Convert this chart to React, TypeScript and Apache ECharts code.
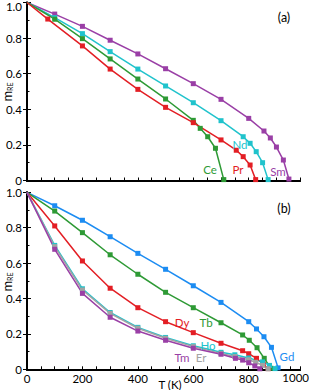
import React, { useEffect, useRef } from "react";
import * as echarts from "echarts";

// ---------- data ----------
const xTickLabels = [0, 200, 400, 600, 800, 1000];
const yTickLabels = ["0", "0.2", "0.4", "0.6", "0.8", "1.0"];

// panel (a)
const ceT = [0, 100, 200, 300, 400, 500, 600, 625, 652, 680, 710];
const ceM = [1, 0.906, 0.797, 0.683, 0.57, 0.458, 0.338, 0.293, 0.246, 0.181, 0.005];
const prT = [0, 75, 200, 300, 400, 500, 600, 700, 755, 780, 805, 825];
const prM = [1, 0.907, 0.756, 0.626, 0.512, 0.411, 0.325, 0.228, 0.17, 0.134, 0.087, 0.005];
const ndT = [0, 100, 200, 300, 400, 500, 600, 700, 780, 805, 827, 850, 870];
const ndM = [1, 0.915, 0.825, 0.724, 0.626, 0.531, 0.437, 0.336, 0.246, 0.209, 0.162, 0.1, 0.005];
const smT = [0, 100, 200, 300, 400, 500, 600, 700, 800, 855, 878, 900, 925, 945];
const smM = [1, 0.935, 0.866, 0.788, 0.711, 0.628, 0.544, 0.456, 0.349, 0.278, 0.239, 0.188, 0.115, 0.008];

// panel (b)
const gdT = [0, 100, 200, 300, 400, 500, 600, 700, 800, 828, 855, 882, 906];
const gdM = [1, 0.924, 0.842, 0.749, 0.655, 0.565, 0.472, 0.378, 0.269, 0.228, 0.184, 0.124, 0.008];
const tbT = [0, 100, 200, 300, 400, 500, 600, 700, 778, 802, 830, 856, 880];
const tbM = [1, 0.894, 0.772, 0.647, 0.537, 0.435, 0.348, 0.263, 0.194, 0.164, 0.122, 0.062, 0.006];
const dyT = [0, 100, 200, 300, 400, 500, 600, 700, 778, 800, 828, 852, 870];
const dyM = [1, 0.81, 0.612, 0.458, 0.348, 0.269, 0.207, 0.147, 0.105, 0.088, 0.062, 0.03, 0.004];
const hoT = [0, 100, 200, 300, 400, 500, 600, 700, 750, 800, 850, 875, 895];
const hoM = [1, 0.7, 0.455, 0.321, 0.237, 0.18, 0.133, 0.096, 0.082, 0.064, 0.042, 0.022, 0.004];
const erT = [0, 100, 200, 300, 400, 500, 600, 700, 750, 800, 825, 850, 870];
const erM = [1, 0.693, 0.448, 0.316, 0.232, 0.175, 0.128, 0.09, 0.072, 0.054, 0.04, 0.022, 0.003];
const tmT = [0, 100, 200, 300, 400, 500, 600, 700, 752, 778, 800, 822, 840];
const tmM = [1, 0.678, 0.429, 0.294, 0.216, 0.164, 0.119, 0.085, 0.062, 0.052, 0.037, 0.019, 0.003];

const C = {
  red: "#e31e24",
  green: "#2e9a35",
  cyan: "#20c3cc",
  purple: "#9a3fa6",
  blue: "#1c8cf2",
  gray: "#a3a3a3",
};

const FONT = "Lato";
const X_MAX = 985;

function pairs(t: number[], m: number[]) {
  return t.map((v, i) =>
    i === 0 ? { value: [v, m[i]], symbol: "none" } : { value: [v, m[i]] }
  );
}

function line(name: string, t: number[], m: number[], color: string, xi: number, yi: number) {
  return {
    name,
    type: "line",
    xAxisIndex: xi,
    yAxisIndex: yi,
    data: pairs(t, m),
    symbol: "rect",
    symbolSize: 5,
    lineStyle: { color, width: 1.5 },
    itemStyle: { color },
    clip: false,
  };
}

const GRIDS = [
  { left: 27, top: 2.5, width: 273, height: 178, outerBoundsMode: "none", containLabel: false },
  { left: 27, top: 192.3, width: 273, height: 177, outerBoundsMode: "none", containLabel: false },
];

export default function App() {
  const ref = useRef<HTMLDivElement>(null);
  useEffect(() => {
    if (!ref.current) return;
    const chart = echarts.init(ref.current, undefined, { renderer: "svg" });

    const axisLine = { show: true, lineStyle: { color: "#000", width: 2 } };
    const xAxes: any[] = [];
    const yAxes: any[] = [];
    const labelValues = xTickLabels.filter((v) => v <= X_MAX);
    [0, 1].forEach((g) => {
      xAxes.push({
        type: "value",
        gridIndex: g,
        position: "bottom",
        min: 0,
        max: X_MAX,
        interval: 50,
        axisLine,
        axisTick: { show: true, inside: true, length: 3, lineStyle: { color: "#000", width: 1 } },
        axisLabel: {
          show: g === 1,
          margin: 3,
          fontFamily: FONT,
          fontSize: 11.5,
          color: "#000",
          customValues: labelValues,
          formatter: (v: number) => String(v),
        },
        splitLine: { show: false },
      });
      xAxes.push({
        type: "value",
        gridIndex: g,
        position: "top",
        min: 0,
        max: X_MAX,
        axisLine,
        axisTick: { show: false },
        axisLabel: { show: false },
        splitLine: { show: false },
      });
      yAxes.push({
        type: "value",
        gridIndex: g,
        position: "left",
        min: 0,
        max: 1,
        interval: 0.2,
        axisLine,
        axisTick: { show: true, inside: true, length: 4, lineStyle: { color: "#000", width: 1 } },
        minorTick: { show: true, splitNumber: 2, length: 2.5, lineStyle: { color: "#000", width: 1 } },
        axisLabel: {
          margin: 5,
          fontFamily: FONT,
          fontSize: 11.5,
          color: "#000",
          formatter: (v: number) => {
            const s = yTickLabels[Math.round(v * 5)];
            return g === 0 && v === 1 ? "{top|" + s + "}" : s;
          },
          rich: {
            top: { fontFamily: FONT, fontSize: 11.5, color: "#000", padding: [8, 0, 0, 0] },
          },
        },
        splitLine: { show: false },
        minorSplitLine: { show: false },
      });
      yAxes.push({
        type: "value",
        gridIndex: g,
        position: "right",
        min: 0,
        max: 1,
        interval: 0.2,
        axisLine,
        axisTick: { show: true, inside: true, length: 4, lineStyle: { color: "#000", width: 1 } },
        axisLabel: { show: false },
        splitLine: { show: false },
      });
    });

    const series = [
      line("Sm", smT, smM, C.purple, 0, 0),
      line("Nd", ndT, ndM, C.cyan, 0, 0),
      line("Ce", ceT, ceM, C.green, 0, 0),
      line("Pr", prT, prM, C.red, 0, 0),
      line("Gd", gdT, gdM, C.blue, 2, 2),
      line("Tb", tbT, tbM, C.green, 2, 2),
      line("Dy", dyT, dyM, C.red, 2, 2),
      line("Ho", hoT, hoM, C.cyan, 2, 2),
      line("Er", erT, erM, C.gray, 2, 2),
      line("Tm", tmT, tmM, C.purple, 2, 2),
    ];

    const txt = (
      text: string,
      x: number,
      y: number,
      color: string,
      size = 11.5,
      align = "center"
    ) => ({
      type: "text",
      x,
      y,
      style: { text, fill: color, fontFamily: FONT, fontSize: size, align, verticalAlign: "middle" },
      z: 100,
    });

    const yName = (y: number) => ({
      type: "text",
      x: 7,
      y,
      rotation: Math.PI / 2,
      style: {
        text: "{m|m}{s|RE}",
        align: "center",
        verticalAlign: "middle",
        fill: "#000",
        rich: {
          m: { fontFamily: FONT, fontSize: 13, fill: "#000", lineHeight: 13, verticalAlign: "middle" },
          s: { fontFamily: FONT, fontSize: 7, fill: "#000", lineHeight: 13, verticalAlign: "bottom", padding: [6, 0, 0, 0] },
        },
      },
      z: 100,
    });

    chart.setOption({
      animation: false,
      grid: GRIDS,
      xAxis: xAxes,
      yAxis: yAxes,
      series,
    });

    chart.setOption({
      graphic: [
        yName(92),
        yName(282),
        txt("(a)", 284, 17, "#000", 12.5),
        txt("(b)", 284, 208, "#000", 12.5),
        txt("Ce", 210, 169, C.green),
        txt("Pr", 238, 169, C.red),
        txt("Nd", 240, 144, C.cyan),
        txt("Sm", 278, 171, C.purple),
        txt("Dy", 182, 322, C.red),
        txt("Tb", 206, 322, C.green),
        txt("Ho", 208, 345, C.cyan),
        txt("Tm", 182, 357, C.purple),
        txt("Er", 201, 357, C.gray),
        txt("Gd", 287, 356, C.blue),
        txt(String(xTickLabels[xTickLabels.length - 1]), 309, 377.5, "#000", 11.5, "right"),
        txt("T (K)", 170, 384.5, "#000", 11.5),
      ],
    });

    return () => chart.dispose();
  }, []);
  return (
    <div
      ref={ref}
      style={{ position: "fixed", left: 0, top: 0, width: 309, height: 390, background: "#fff" }}
    />
  );
}
